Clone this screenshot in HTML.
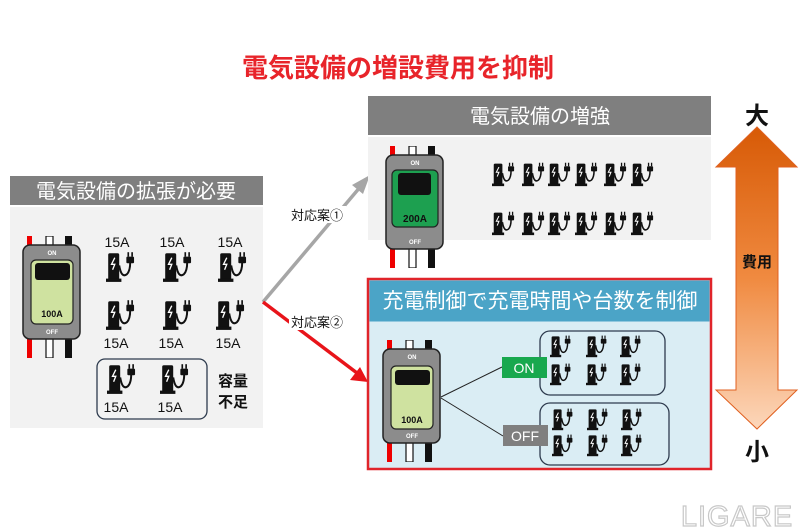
<!DOCTYPE html>
<html><head><meta charset="utf-8"><style>
html,body{margin:0;padding:0;background:#fff;}
svg{display:block;font-family:"Liberation Sans","Noto Sans CJK JP",sans-serif;}
</style></head><body>
<svg width="800" height="532" viewBox="0 0 800 532" xmlns="http://www.w3.org/2000/svg">
<defs>
<symbol id="ch" viewBox="0 0 30 30">
<rect x="2" y="3" width="10" height="25" rx="1.5" fill="#111"/>
<rect x="0" y="26" width="14" height="3" fill="#111"/>
<path d="M8 7 L5 13 L8 13 L6 18" stroke="#fff" stroke-width="1.2" fill="none"/>
<path d="M12 14 Q14 26 19 22 Q22 19 22 11" stroke="#111" stroke-width="1.8" fill="none"/>
<rect x="18.5" y="6" width="7" height="6" rx="1" fill="#111"/>
<rect x="19.5" y="2" width="1.5" height="4" fill="#111"/>
<rect x="23" y="2" width="1.5" height="4" fill="#111"/>
</symbol>
<symbol id="brk" viewBox="0 0 60 122">
<rect x="5" y="0" width="5" height="12" fill="#e00"/>
<rect x="24" y="0" width="7" height="12" fill="#fff" stroke="#111" stroke-width="1.2"/>
<rect x="43" y="0" width="7" height="12" fill="#111"/>
<rect x="5" y="100" width="5" height="22" fill="#e00"/>
<rect x="24" y="100" width="7" height="22" fill="#fff" stroke="#111" stroke-width="1.2"/>
<rect x="43" y="100" width="7" height="22" fill="#111"/>
<rect x="1" y="9" width="57" height="94" rx="7" fill="#8c8c8c" stroke="#222" stroke-width="1.5"/>
<text x="30" y="19" font-size="6" fill="#fff" font-weight="bold" text-anchor="middle">ON</text>
<text x="30" y="98" font-size="6" fill="#fff" font-weight="bold" text-anchor="middle">OFF</text>
</symbol>
<linearGradient id="og" x1="0" y1="0" x2="0" y2="1">
<stop offset="0" stop-color="#d75a06"/><stop offset="0.5" stop-color="#f08a40"/><stop offset="1" stop-color="#fcd7bb"/>
</linearGradient>
</defs>

<text x="398" y="77" font-size="26" font-weight="bold" fill="#e8242a" text-anchor="middle">電気設備の増設費用を抑制</text>

<!-- left panel -->
<rect x="10" y="176" width="253" height="29" fill="#7f7f7f"/>
<text x="136" y="198" font-size="20" fill="#fff" text-anchor="middle">電気設備の拡張が必要</text>
<rect x="10" y="207" width="253" height="221" fill="#f2f2f2"/>
<use href="#brk" x="22" y="236" width="60" height="122"/>
<rect x="31" y="260" width="42" height="64" rx="5" fill="#cfe2a0" stroke="#222" stroke-width="1.2"/>
<rect x="35" y="263" width="35" height="17" rx="3" fill="#111"/>
<text x="52" y="317" font-size="9" font-weight="bold" fill="#111" text-anchor="middle">100A</text>
<g font-size="14" fill="#111" text-anchor="middle">
<text x="117" y="247">15A</text><text x="172" y="247">15A</text><text x="230" y="247">15A</text>
<text x="116" y="348">15A</text><text x="171" y="348">15A</text><text x="228" y="348">15A</text>
<text x="116" y="412">15A</text><text x="170" y="412">15A</text>
<text x="233" y="386" font-size="15" font-weight="bold">容量</text>
<text x="233" y="407" font-size="15" font-weight="bold">不足</text>
</g>
<use href="#ch" x="106" y="250" width="33" height="33"/>
<use href="#ch" x="163" y="250" width="33" height="33"/>
<use href="#ch" x="218" y="250" width="33" height="33"/>
<use href="#ch" x="106" y="298" width="33" height="33"/>
<use href="#ch" x="163" y="298" width="33" height="33"/>
<use href="#ch" x="216" y="298" width="33" height="33"/>
<rect x="97" y="359" width="110" height="60" rx="8" fill="none" stroke="#2e3b4e" stroke-width="1.3"/>
<use href="#ch" x="107" y="362" width="33" height="33"/>
<use href="#ch" x="160" y="362" width="33" height="33"/>

<!-- connectors -->
<line x1="263" y1="302" x2="361" y2="186" stroke="#a6a6a6" stroke-width="3.5"/>
<polygon points="370,175 352,185 363,194" fill="#a6a6a6"/>
<line x1="263" y1="302" x2="357" y2="373" stroke="#e8141a" stroke-width="3.5"/>
<polygon points="368,382 350,380 360,367" fill="#e8141a"/>
<rect x="289" y="206" width="57" height="17" fill="#fff"/>
<text x="317" y="220" font-size="13" fill="#111" text-anchor="middle">対応案①</text>
<rect x="289" y="313" width="57" height="17" fill="#fff"/>
<text x="317" y="327" font-size="13" fill="#111" text-anchor="middle">対応案②</text>

<!-- top right -->
<rect x="368" y="96" width="343" height="39" fill="#7f7f7f"/>
<text x="540" y="123" font-size="20" fill="#fff" text-anchor="middle">電気設備の増強</text>
<rect x="368" y="137" width="343" height="103" fill="#f2f2f2"/>
<use href="#brk" x="385" y="146" width="60" height="122"/>
<rect x="392" y="170" width="46" height="57" rx="5" fill="#1da050" stroke="#222" stroke-width="1.2"/>
<rect x="398" y="173" width="33" height="22" rx="3" fill="#111"/>
<text x="415" y="222" font-size="10" font-weight="bold" fill="#111" text-anchor="middle">200A</text>
<g>
<use href="#ch" x="492" y="161" width="26" height="26"/><use href="#ch" x="522" y="161" width="26" height="26"/><use href="#ch" x="548" y="161" width="26" height="26"/><use href="#ch" x="575" y="161" width="26" height="26"/><use href="#ch" x="604" y="161" width="26" height="26"/><use href="#ch" x="631" y="161" width="26" height="26"/>
<use href="#ch" x="492" y="210" width="26" height="26"/><use href="#ch" x="522" y="210" width="26" height="26"/><use href="#ch" x="548" y="210" width="26" height="26"/><use href="#ch" x="575" y="210" width="26" height="26"/><use href="#ch" x="604" y="210" width="26" height="26"/><use href="#ch" x="631" y="210" width="26" height="26"/>
</g>

<!-- bottom right -->
<rect x="368" y="279" width="343" height="190" fill="#daedf4" stroke="#e0242a" stroke-width="2.5"/>
<rect x="369.5" y="280.5" width="340" height="41" fill="#4ba4c7"/>
<text x="540" y="308" font-size="21" fill="#fff" text-anchor="middle">充電制御で充電時間や台数を制御</text>
<use href="#brk" x="382" y="340" width="60" height="122"/>
<rect x="391" y="366" width="42" height="63" rx="5" fill="#cfe2a0" stroke="#222" stroke-width="1.2"/>
<rect x="395" y="370" width="35" height="15" rx="3" fill="#111"/>
<text x="412" y="423" font-size="9" font-weight="bold" fill="#111" text-anchor="middle">100A</text>
<line x1="441" y1="397" x2="502" y2="367" stroke="#222" stroke-width="1"/>
<line x1="441" y1="398" x2="503" y2="436" stroke="#222" stroke-width="1"/>
<rect x="540" y="331" width="125" height="64" rx="10" fill="none" stroke="#2e3b4e" stroke-width="1.3"/>
<rect x="540" y="403" width="129" height="62" rx="10" fill="none" stroke="#2e3b4e" stroke-width="1.3"/>
<rect x="502" y="357" width="45" height="21" fill="#18a84e"/>
<text x="524" y="373" font-size="14" fill="#fff" text-anchor="middle">ON</text>
<rect x="503" y="425" width="45" height="21" fill="#7f7f7f"/>
<text x="525" y="441" font-size="14" fill="#fff" text-anchor="middle">OFF</text>
<g>
<use href="#ch" x="550" y="334" width="24" height="24"/><use href="#ch" x="586" y="334" width="24" height="24"/><use href="#ch" x="620" y="334" width="24" height="24"/>
<use href="#ch" x="550" y="362" width="24" height="24"/><use href="#ch" x="586" y="362" width="24" height="24"/><use href="#ch" x="620" y="362" width="24" height="24"/>
<use href="#ch" x="552" y="407" width="24" height="24"/><use href="#ch" x="587" y="407" width="24" height="24"/><use href="#ch" x="621" y="407" width="24" height="24"/>
<use href="#ch" x="552" y="433" width="24" height="24"/><use href="#ch" x="587" y="433" width="24" height="24"/><use href="#ch" x="621" y="433" width="24" height="24"/>
</g>

<!-- cost arrow -->
<polygon points="757,127 797,167 778,167 778,390 797,390 757,429 716,390 736,390 736,167 716,167" fill="url(#og)" stroke="#e06020" stroke-width="1"/>
<text x="757" y="124" font-size="24" font-weight="bold" fill="#111" text-anchor="middle">大</text>
<text x="757" y="267" font-size="15" font-weight="bold" fill="#111" text-anchor="middle">費用</text>
<text x="757" y="460" font-size="24" font-weight="bold" fill="#111" text-anchor="middle">小</text>

<text x="737" y="526" font-size="29" fill="#fff" stroke="#c8c8c8" stroke-width="1.2" text-anchor="middle" letter-spacing="1">LIGARE</text>
</svg>
</body></html>
